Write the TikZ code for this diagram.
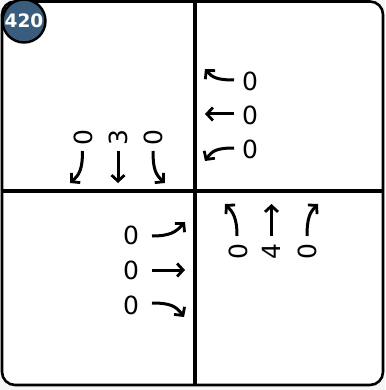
\documentclass[tikz,border=0pt]{standalone}
\usepackage{fontspec}
\setmainfont{DejaVu Sans}
\usepackage{tikz}
\usetikzlibrary{arrows.meta}
\definecolor{badgeblue}{RGB}{58,92,125}
\tikzset{
  lane/.style={line width=3pt, -{Straight Barb[length=6pt,width=13pt,line width=2.8pt]}},
  count/.style={font=\fontsize{25}{25}\selectfont, inner sep=0pt},
  road/.style={line width=3.4pt}
}
\begin{document}
\begin{tikzpicture}[x=1pt,y=-1pt]
    \useasboundingbox (0,0) rectangle (385,390);
    \fill[gray!8] (0,0) rectangle (385,390);
    % frame and cross
    \draw[line width=2.6pt, fill=white, rounded corners=13pt] (2,1.5) rectangle (383,385);
    \coordinate (n) at (195,1.5);
    \coordinate (s) at (195,385);
    \coordinate (w) at (2,191);
    \coordinate (e) at (383,191);
    \draw[road] (n) -- (s);
    \draw[road] (w) -- (e);
    % badge
    \node[circle, draw, line width=2.4pt, fill=badgeblue, text=white, minimum size=43pt,
          inner sep=0pt, font=\bfseries\fontsize{18.5}{18.5}\selectfont] (id) at (24,21) {420};
    % southbound
    \node[count, rotate=90] (s1) at (83.5,137.5) {0};
    \node[count, rotate=90] (s2) at (118.5,137.5) {3};
    \node[count, rotate=90] (s3) at (153,137.5) {0};
    \draw[lane] (82.5,151) .. controls (82.5,170) and (79,175) .. (70,183);
    \draw[lane] (118,151) -- (118,183);
    \draw[lane] (153,151) .. controls (153,170) and (156,175) .. (165,183);
    % westbound
    \node[count] (w1) at (250,81) {0};
    \node[count] (w2) at (250,115) {0};
    \node[count] (w3) at (250,149) {0};
    \draw[lane] (234,80) .. controls (216,80) and (212,77) .. (205,69);
    \draw[lane] (234,114) -- (205,114);
    \draw[lane] (234,148) .. controls (216,148) and (212,151) .. (205,161);
    % eastbound
    \node[count] (e1) at (131,235) {0};
    \node[count] (e2) at (131,270) {0};
    \node[count] (e3) at (131,305) {0};
    \draw[lane] (152,236) .. controls (170,236) and (176,232) .. (185,222);
    \draw[lane] (152,270) -- (185,270);
    \draw[lane] (152,303) .. controls (170,303) and (176,306) .. (184,317);
    % northbound
    \node[count, rotate=90] (n1) at (238,252) {0};
    \node[count, rotate=90] (n2) at (271.5,252) {4};
    \node[count, rotate=90] (n3) at (307,252) {0};
    \draw[lane] (237,236) .. controls (237,218) and (233,212) .. (225,204);
    \draw[lane] (271.5,236) -- (271.5,204);
    \draw[lane] (307,236) .. controls (307,218) and (310,212) .. (318,204);
\end{tikzpicture}
\end{document}
